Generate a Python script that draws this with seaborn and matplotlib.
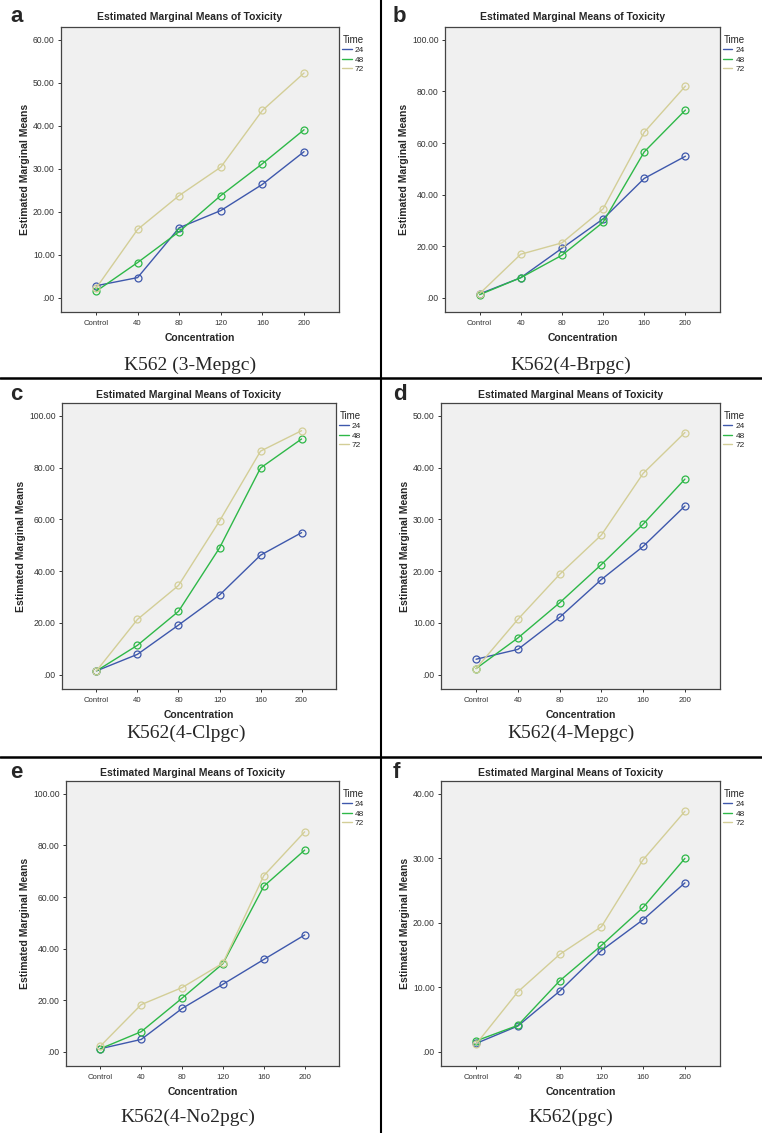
import numpy as np
import pandas as pd
import matplotlib
matplotlib.use("Agg")
import matplotlib.pyplot as plt
from matplotlib.lines import Line2D
from matplotlib.ticker import FuncFormatter
import seaborn as sns

sns.set_style("white")
plt.rcParams['font.family'] = ['Liberation Sans', 'DejaVu Sans']

concentrations = ["Control", "40", "80", "120", "160", "200"]
times = ["24", "48", "72"]

panel_letters = ["a", "b", "c", "d", "e", "f"]
panel_names = ["K562 (3-Mepgc)", "K562(4-Brpgc)", "K562(4-Clpgc)",
               "K562(4-Mepgc)", "K562(4-No2pgc)", "K562(pgc)"]
y_top_tick = [60, 100, 100, 50, 100, 40]
y_tick_step = [10, 20, 20, 10, 20, 10]

# values per panel: [24h, 48h, 72h]
a_24 = [2.8, 4.7, 16.3, 20.3, 26.4, 34.0]
a_48 = [1.5, 8.2, 15.4, 23.8, 31.2, 39.1]
a_72 = [2.2, 15.9, 23.8, 30.4, 43.6, 52.3]

b_24 = [1.5, 7.8, 19.2, 30.6, 46.3, 54.9]
b_48 = [1.2, 7.8, 16.5, 29.3, 56.6, 72.8]
b_72 = [1.6, 16.9, 21.3, 34.5, 64.2, 82.1]

c_24 = [1.5, 7.9, 19.2, 30.8, 46.2, 54.9]
c_48 = [1.5, 11.4, 24.5, 49.0, 79.9, 91.1]
c_72 = [1.5, 21.4, 34.5, 59.4, 86.4, 94.3]

d_24 = [3.0, 4.9, 11.1, 18.4, 24.8, 32.6]
d_48 = [1.2, 7.1, 13.9, 21.3, 29.1, 37.8]
d_72 = [1.2, 10.7, 19.4, 27.0, 38.9, 46.8]

e_24 = [1.2, 4.8, 16.8, 26.2, 35.8, 45.3]
e_48 = [1.2, 7.8, 20.8, 34.2, 64.2, 78.2]
e_72 = [2.2, 18.3, 24.9, 34.4, 68.3, 85.3]

f_24 = [1.3, 4.0, 9.4, 15.7, 20.5, 26.2]
f_48 = [1.7, 4.1, 11.0, 16.5, 22.4, 30.0]
f_72 = [1.2, 9.3, 15.1, 19.4, 29.8, 37.3]

panel_values = [
    [a_24, a_48, a_72], [b_24, b_48, b_72], [c_24, c_48, c_72],
    [d_24, d_48, d_72], [e_24, e_48, e_72], [f_24, f_48, f_72],
]

palette = {"24": "#3E58AC", "48": "#2EB848", "72": "#D3CE97"}

W, H = 762, 1133
fig = plt.figure(figsize=(W / 100, H / 100), dpi=100)
fig.patch.set_facecolor("white")

# axes rectangles in pixels: left, top, right, bottom
rects = [(61, 27, 339, 312), (445, 27, 720, 312),
         (62, 403, 336, 689), (441, 403, 720, 689),
         (66, 781, 339, 1066), (441, 781, 720, 1066)]
title_y = [17, 17, 395, 395, 773, 773]
xlabel_y = [338, 338, 715, 715, 1092, 1092]
sub_y = [365, 365, 733, 733, 1117, 1117]
sub_x = [190, 571, 186, 571, 188, 571]
letter_x = [10, 393, 10, 393, 10, 393]


def fmt(v, pos):
    s = f"{v:.2f}"
    if s.startswith("0"):
        s = s[1:]
    return s


for i in range(6):
    l, t, r, b = rects[i]
    ax = fig.add_axes([l / W, 1 - b / H, (r - l) / W, (b - t) / H])
    rows = []
    for ti, tm in enumerate(times):
        for ci, c in enumerate(concentrations):
            rows.append({"pos": ci, "Concentration": c, "Time": tm,
                         "value": panel_values[i][ti][ci]})
    df = pd.DataFrame(rows)
    sns.lineplot(data=df, x="pos", y="value", hue="Time", hue_order=times,
                 palette=palette, marker="o", markersize=5.0, linewidth=1.0,
                 legend=False, ax=ax)
    for line in ax.lines:
        col = line.get_color()
        line.set_markerfacecolor("none")
        line.set_markeredgecolor(col)
        line.set_markeredgewidth(0.9)

    ax.set_facecolor("#F0F0F0")
    T = y_top_tick[i]
    ax.set_ylim(-0.055 * T, 1.05 * T)
    ax.set_xlim(-0.84, 5.84)
    ax.set_yticks(np.arange(0, T + 0.01, y_tick_step[i]))
    ax.yaxis.set_major_formatter(FuncFormatter(fmt))
    ax.set_xticks(range(len(concentrations)))
    ax.set_xticklabels(concentrations)
    ax.tick_params(axis="both", length=2.5, width=0.7,
                   colors="#333333", direction="out", left=True, bottom=True, pad=2)
    ax.tick_params(axis="y", labelsize=6.2)
    ax.tick_params(axis="x", labelsize=5.6, pad=3)
    for sp in ax.spines.values():
        sp.set_color("#444444")
        sp.set_linewidth(0.9)
    ax.set_xlabel("")
    ax.set_ylabel("Estimated Marginal Means", fontsize=7.5, fontweight="bold",
                  labelpad=2)

    handles = [Line2D([0], [0], color=palette[tm], lw=1.0) for tm in times]
    leg = ax.legend(handles, times, title="Time", loc="upper left",
                    bbox_to_anchor=(1.0, 0.985), frameon=False, fontsize=6,
                    title_fontsize=7, handlelength=1.1, handletextpad=0.4,
                    labelspacing=0.2, borderpad=0.2, borderaxespad=0.2)
    leg._legend_box.align = "left"

    cx = (l + r) / 2
    fig.text((cx - 10) / W, 1 - title_y[i] / H,
             "Estimated Marginal Means of Toxicity", ha="center", va="center",
             fontsize=7.5, fontweight="bold")
    fig.text(cx / W, 1 - xlabel_y[i] / H, "Concentration", ha="center",
             va="center", fontsize=7.5, fontweight="bold")
    fig.text(sub_x[i] / W, 1 - sub_y[i] / H, panel_names[i], ha="center",
             va="center", fontsize=14, family=["Liberation Serif", "DejaVu Serif"])
    fig.text(letter_x[i] / W, 1 - title_y[i] / H, panel_letters[i],
             ha="left", va="center", fontsize=16, fontweight="bold")

# divider lines
fig.add_artist(Line2D([381 / W, 381 / W], [0, 1], color="black", lw=1.5))
fig.add_artist(Line2D([0, 1], [1 - 378 / H, 1 - 378 / H], color="black", lw=1.8))
fig.add_artist(Line2D([0, 1], [1 - 757 / H, 1 - 757 / H], color="black", lw=1.8))

fig.savefig("out.png", dpi=100)
